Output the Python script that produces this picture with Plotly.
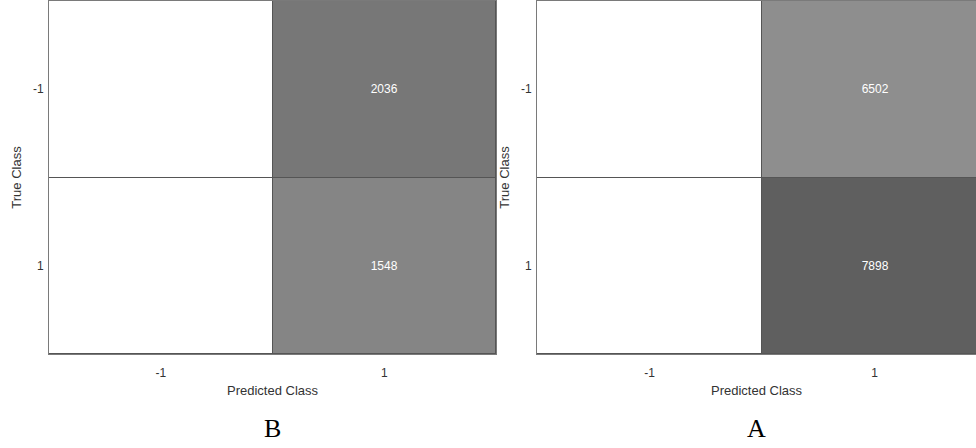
import plotly.graph_objects as go

pred_classes = ["-1", "1"]
true_classes = ["-1", "1"]
# rows = true class, cols = predicted class
counts_B = [[0, 2036], [0, 1548]]
counts_A = [[0, 6502], [0, 7898]]
panel_labels = ["B", "A"]

def txt(m):
    return [[("" if v == 0 else str(v)) for v in row] for row in m]

def scale(m, c_mid, c_hi):
    vals = sorted(v for row in m for v in row if v > 0)
    lo, hi = vals[0], vals[-1]
    return [[0, "#ffffff"], [lo / hi, c_mid], [1, c_hi]], hi

csB, maxB = scale(counts_B, "#858585", "#777777")
csA, maxA = scale(counts_A, "#8e8e8e", "#5f5f5f")

cellfont = dict(color="white", size=12, family="Liberation Sans")
fig = go.Figure()
fig.add_trace(go.Heatmap(z=counts_B, x=[0, 1], y=[0, 1], text=txt(counts_B),
                         texttemplate="%{text}", textfont=cellfont,
                         colorscale=csB, zmin=0, zmax=maxB, showscale=False, xgap=1, ygap=1,
                         xaxis="x", yaxis="y", hoverinfo="skip"))
fig.add_trace(go.Heatmap(z=counts_A, x=[0, 1], y=[0, 1], text=txt(counts_A),
                         texttemplate="%{text}", textfont=cellfont,
                         colorscale=csA, zmin=0, zmax=maxA, showscale=False, xgap=1, ygap=1,
                         xaxis="x2", yaxis="y2", hoverinfo="skip"))

axfont = dict(family="Liberation Sans", size=12, color="#333333")
titlefont = dict(family="Liberation Sans", size=13, color="#333333")

def xax(domain, rng, anchor):
    return dict(domain=domain, range=rng, anchor=anchor, tickvals=[0, 1], ticktext=pred_classes,
                showgrid=False, zeroline=False, showline=True, linecolor="#7a7a7a", linewidth=1, mirror=True,
                ticks="outside", ticklen=8, tickcolor="rgba(0,0,0,0)", tickfont=axfont, automargin=False,
                title=dict(text="Predicted Class", font=titlefont, standoff=6))

def yax(domain, anchor):
    return dict(domain=domain, range=[1.5, -0.5], anchor=anchor, tickvals=[0, 1], ticktext=true_classes,
                showgrid=False, zeroline=False, showline=True, linecolor="#7a7a7a", linewidth=1, mirror=True,
                ticks="outside", ticklen=2, tickcolor="rgba(0,0,0,0)", tickfont=axfont, automargin=False,
                title=dict(text="True Class", font=titlefont, standoff=8))

ydom = [1 - 354 / 448, 1 - 1 / 448]
fig.update_layout(
    width=976, height=448, margin=dict(l=0, r=0, t=0, b=0, autoexpand=False),
    paper_bgcolor="white", plot_bgcolor="#555555",
    xaxis=xax([49 / 976, 496 / 976], [-0.5, 1.5], "y"),
    yaxis=yax(ydom, "x"),
    xaxis2=xax([537 / 976, 1.0], [-0.5, 1.45], "y2"),
    yaxis2=yax(ydom, "x2"),
    annotations=[
        dict(text=panel_labels[0], x=272 / 976, y=1 - 428 / 448, xref="paper", yref="paper",
             showarrow=False, xanchor="center", yanchor="middle",
             font=dict(family="Liberation Serif", size=26, color="black")),
        dict(text=panel_labels[1], x=756 / 976, y=1 - 428 / 448, xref="paper", yref="paper",
             showarrow=False, xanchor="center", yanchor="middle",
             font=dict(family="Liberation Serif", size=26, color="black")),
    ],
)

fig.write_html("out.html", config={"displayModeBar": False},
               post_script="document.body.style.margin='0';document.body.style.overflow='hidden';")
